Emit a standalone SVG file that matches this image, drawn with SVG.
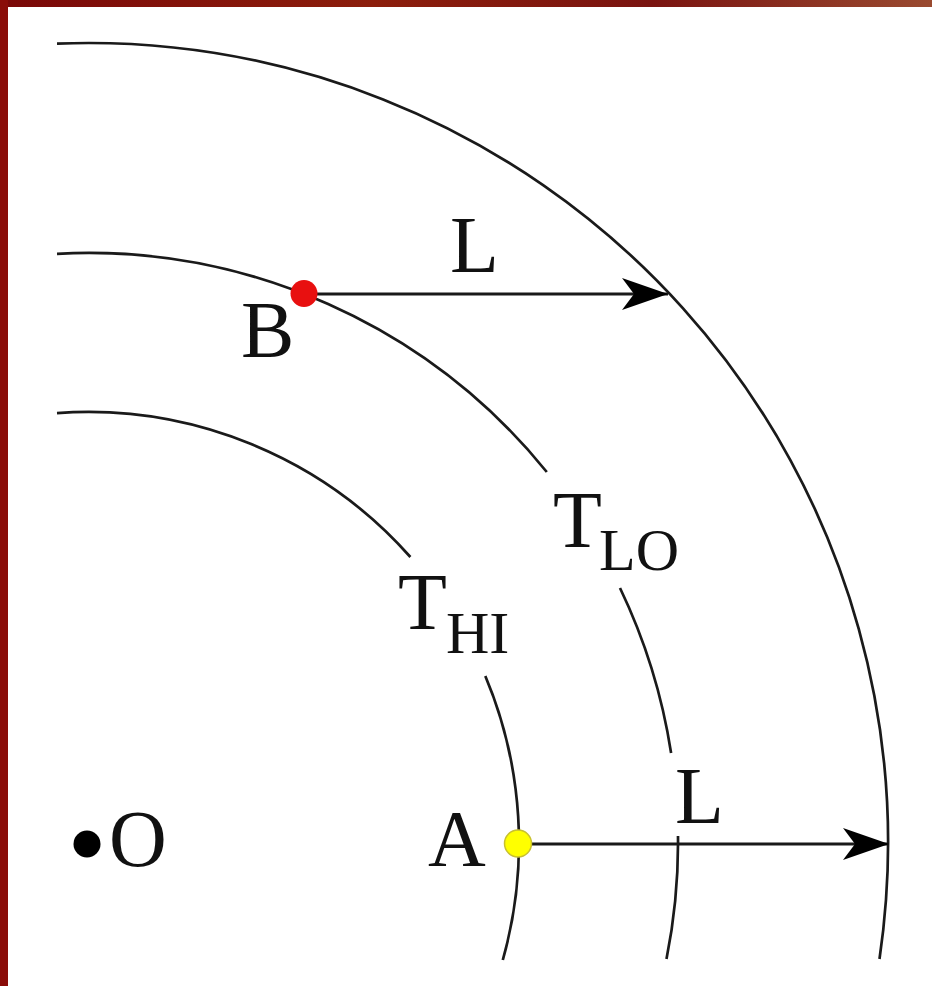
<svg xmlns="http://www.w3.org/2000/svg" width="932" height="986" viewBox="0 0 932 986">
  <style>
    .arc { fill: none; stroke: #1a1a1a; stroke-width: 2.7; }
    .arrow { fill: none; stroke: #1a1a1a; stroke-width: 3; }
    .lbl { font-family: "Liberation Serif", "Times New Roman", serif; font-size: 80px; fill: #111; }
    .sub { font-family: "Liberation Serif", "Times New Roman", serif; font-size: 60px; fill: #111; }
  </style>
  <defs>
    <marker id="head" markerUnits="userSpaceOnUse" viewBox="-50 -18 52 36" markerWidth="52" markerHeight="36" refX="0" refY="0" orient="auto">
      <path d="M 0 0 L -46 -16 L -34 0 L -46 16 Z" fill="#000"/>
    </marker>
    <linearGradient id="frame" x1="0" y1="0" x2="1" y2="0">
      <stop offset="0" stop-color="#7a0808"/>
      <stop offset="0.4" stop-color="#8c1e0c"/>
      <stop offset="0.7" stop-color="#7a1410"/>
      <stop offset="1" stop-color="#9a4a30"/>
    </linearGradient>
  </defs>

  <rect x="0" y="0" width="932" height="986" fill="url(#frame)"/>
  <rect x="0" y="0" width="8" height="986" fill="#8a0c08"/>
  <rect x="8" y="7" width="924" height="979" fill="#ffffff"/>

  <g id="arcs">
    <path id="arc-outer" class="arc" d="M 57 43.6 A 800 800 0 0 1 879.5 959"/>
    <path id="arc-lo" class="arc" d="M 57 253.8 A 590 590 0 0 1 546.8 472 M 620 588 A 590 590 0 0 1 671.1 753 M 678 836 A 590 590 0 0 1 666.5 959"/>
    <path id="arc-hi" class="arc" d="M 57 413.1 A 431 431 0 0 1 410.4 557 M 485.3 676 A 431 431 0 0 1 502.8 960"/>
  </g>

  <g id="connectors">
    <line id="arrow-B" class="arrow" x1="317" y1="294" x2="668" y2="294" marker-end="url(#head)"/>
    <line id="arrow-A" class="arrow" x1="532" y1="844" x2="889" y2="844" marker-end="url(#head)"/>
  </g>

  <g id="node-O">
    <circle cx="87" cy="844" r="13.5" fill="#000"/>
    <text class="lbl" x="109" y="866">O</text>
  </g>
  <g id="node-A">
    <circle cx="518" cy="843.5" r="13.5" fill="#ffff00" stroke="#c8c030" stroke-width="1.5"/>
    <text class="lbl" x="428" y="866">A</text>
  </g>
  <g id="node-B">
    <circle cx="304" cy="293.5" r="13.5" fill="#e81010"/>
    <text class="lbl" x="241" y="357">B</text>
  </g>
  <g id="label-L-top">
    <text class="lbl" x="450" y="272">L</text>
  </g>
  <g id="label-L-bottom">
    <text class="lbl" x="675" y="823">L</text>
  </g>
  <g id="label-TLO">
    <text class="lbl" x="553" y="547">T</text>
    <text class="sub" x="599" y="570">LO</text>
  </g>
  <g id="label-THI">
    <text class="lbl" x="398" y="629">T</text>
    <text class="sub" x="446" y="653">HI</text>
  </g>
</svg>
